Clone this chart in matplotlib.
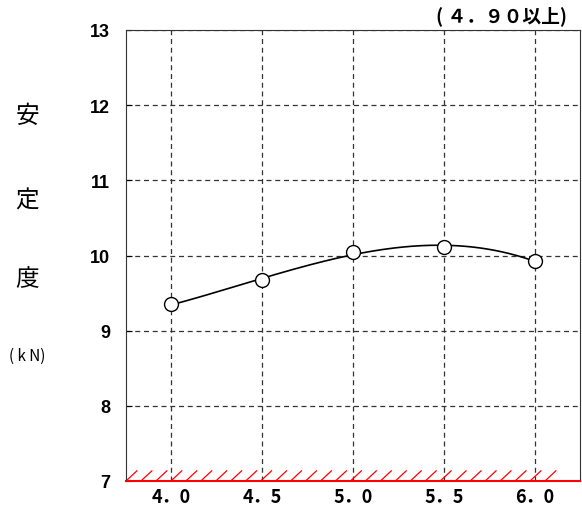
import numpy as np
import matplotlib.pyplot as plt

plt.rcParams['font.family'] = ['Noto Sans CJK JP', 'DejaVu Sans']

# 測定値
x_vals = [4.0, 4.5, 5.0, 5.5, 6.0]
y_vals = [9.35, 9.67, 10.05, 10.11, 9.93]
x_ticks = [4.0, 4.5, 5.0, 5.5, 6.0]
x_labels = ["4．0", "4．5", "5．0", "5．5", "6．0"]
y_ticks = [7, 8, 9, 10, 11, 12, 13]
limit_note = "( ４．９０以上)"

fig = plt.figure(figsize=(5.82, 5.10), dpi=100)
ax = fig.add_axes([126 / 582, 1 - 482 / 510, 454 / 582, 451 / 510])

ax.set_xlim(3.75, 6.25)
ax.set_ylim(7, 13)

ax.grid(True, linestyle=(0, (4, 3)), color="#333333", linewidth=0.9)
ax.set_axisbelow(True)

# 3次近似曲線
coef = np.polyfit(x_vals, y_vals, 3)
xs = np.linspace(x_vals[0], x_vals[-1], 200)
ax.plot(xs, np.polyval(coef, xs), color="black", linewidth=1.2, zorder=3)
ax.plot(x_vals, y_vals, "o", markersize=10, markerfacecolor="white",
        markeredgecolor="black", markeredgewidth=1.0, zorder=4)

# 下限のハッチ
for x0 in np.arange(3.75, 6.10, 0.0824):
    ax.plot([x0, x0 + 0.06], [7, 7.135], color="red", linewidth=0.9,
            zorder=2, clip_on=False)

ax.set_xticks(x_ticks)
ax.set_xticklabels(x_labels, fontsize=13, fontweight="bold")
ax.set_yticks(y_ticks)
ax.set_yticklabels([str(v) for v in y_ticks], fontsize=13, fontweight="bold",
                   family="Liberation Sans")
ax.tick_params(axis="y", direction="in", length=4, pad=11.5)
ax.tick_params(axis="x", length=0, pad=4)

for s in ["left", "top", "right"]:
    ax.spines[s].set_color("#333333")
ax.spines["bottom"].set_color("red")
ax.spines["bottom"].set_linewidth(1.5)

for ch, yy in zip("安定度", [116, 201, 280]):
    fig.text(27 / 582, 1 - yy / 510, ch, fontsize=17,
             ha="center", va="center")
fig.text(27 / 582, 1 - 356 / 510, "( k N)", fontsize=11, ha="center", va="center")
fig.text(567 / 582, 1 - 16 / 510, limit_note, fontsize=13.5, fontweight="bold",
         ha="right", va="center")

fig.savefig("out.png", dpi=100)
